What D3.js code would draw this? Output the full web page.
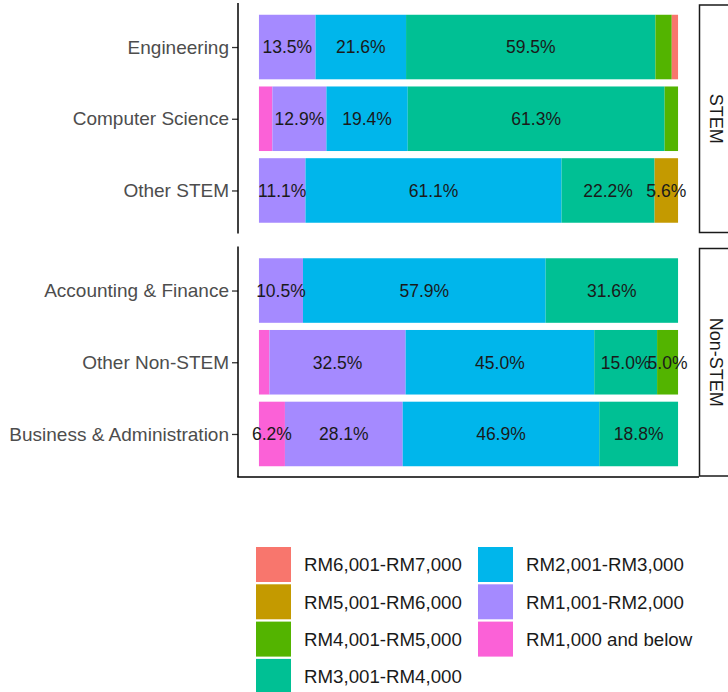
<!DOCTYPE html>
<html>
<head>
<meta charset="utf-8">
<script src="https://cdn.jsdelivr.net/npm/d3@7"></script>
<style>
  html, body { margin: 0; padding: 0; background: #fff; }
  svg { display: block; font-family: "Liberation Sans", Arial, sans-serif; }
</style>
</head>
<body>
<svg id="chart" width="728" height="692"></svg>
<script>
// ---- data ----
const incomeLevels = ["RM1,000 and below","RM1,001-RM2,000","RM2,001-RM3,000","RM3,001-RM4,000","RM4,001-RM5,000","RM5,001-RM6,000","RM6,001-RM7,000"];
const levelColors = ["#FB61D7","#A58AFF","#00B6EB","#00C094","#53B400","#C49A00","#F8766D"];
const legendOrder = ["RM6,001-RM7,000","RM5,001-RM6,000","RM4,001-RM5,000","RM3,001-RM4,000","RM2,001-RM3,000","RM1,001-RM2,000","RM1,000 and below"];

const groups = ["STEM","Non-STEM"];
const stemFields = ["Engineering","Computer Science","Other STEM"];
const nonStemFields = ["Accounting & Finance","Other Non-STEM","Business & Administration"];

// percentages per field, in incomeLevels order
const engineering      = [0,   13.5, 21.6, 59.5, 3.9, 0,   1.5];
const computerScience  = [3.2, 12.9, 19.4, 61.3, 3.2, 0,   0];
const otherStem        = [0,   11.1, 61.1, 22.2, 0,   5.6, 0];
const accountingFinance= [0,   10.5, 57.9, 31.6, 0,   0,   0];
const otherNonStem     = [2.5, 32.5, 45.0, 15.0, 5.0, 0,   0];
const businessAdmin    = [6.2, 28.1, 46.9, 18.8, 0,   0,   0];

const fieldValues = {
  "Engineering": engineering,
  "Computer Science": computerScience,
  "Other STEM": otherStem,
  "Accounting & Finance": accountingFinance,
  "Other Non-STEM": otherNonStem,
  "Business & Administration": businessAdmin
};
const groupFields = { "STEM": stemFields, "Non-STEM": nonStemFields };

// ---- layout ----
const svg = d3.select("#chart");
const panelLeft = 238, panelRight = 699;
const panels = [
  { group: "STEM", top: 4, bottom: 233.5 },
  { group: "Non-STEM", top: 247.5, bottom: 477 }
];

const color = d3.scaleOrdinal().domain(incomeLevels).range(levelColors);
const x = d3.scaleLinear().domain([-5, 105]).range([panelLeft, panelRight]);
const fmt = d3.format(".1f");

panels.forEach((p, pi) => {
  const fields = groupFields[p.group];
  const y = d3.scalePoint().domain(fields).range([p.top, p.bottom]).padding(0.6);
  const step = y.step();
  const barH = step * 0.9;
  const g = svg.append("g");

  // stacked bars
  const rows = fields.map(f => {
    const obj = { field: f };
    incomeLevels.forEach((l, i) => obj[l] = fieldValues[f][i]);
    return obj;
  });
  const stack = d3.stack().keys(incomeLevels)(rows);
  stack.forEach(layer => {
    g.selectAll(null).data(layer).enter().append("rect")
      .attr("x", d => x(d[0]))
      .attr("width", d => Math.max(0, x(d[1]) - x(d[0])))
      .attr("y", d => y(d.data.field) - barH / 2)
      .attr("height", barH)
      .attr("fill", color(layer.key));
  });
  stack.forEach(layer => {
    g.selectAll(null).data(layer.filter(d => d[1] - d[0] >= 4.95)).enter().append("text")
      .attr("x", d => x((d[0] + d[1]) / 2))
      .attr("y", d => y(d.data.field))
      .attr("dy", "0.36em")
      .attr("text-anchor", "middle")
      .attr("font-size", "17.5px")
      .attr("fill", "#1a1a1a")
      .text(d => fmt(d[1] - d[0]) + "%");
  });

  // y axis
  const yAxis = d3.axisLeft(y).tickSize(6).tickPadding(3);
  const ag = svg.append("g").attr("transform", `translate(${panelLeft},0)`).call(yAxis);
  ag.select(".domain").remove();
  ag.selectAll(".tick line").attr("stroke", "#333").attr("stroke-width", 1.3);
  ag.selectAll(".tick text").attr("font-size", "19px").attr("fill", "#4D4D4D")
    .attr("font-family", "Liberation Sans, Arial, sans-serif");
  svg.append("line").attr("x1", panelLeft).attr("x2", panelLeft)
    .attr("y1", p.top - 1).attr("y2", p.bottom).attr("stroke", "#000").attr("stroke-width", 1.5);

  // strip
  svg.append("rect").attr("x", 699.5).attr("y", p.top + 1).attr("width", 50).attr("height", p.bottom - p.top - 2)
    .attr("fill", "#fff").attr("stroke", "#1a1a1a").attr("stroke-width", 1.5);
  const cy = (p.top + p.bottom) / 2;
  svg.append("text").attr("transform", `translate(716,${cy}) rotate(90)`)
    .attr("text-anchor", "middle").attr("dy", "0.36em")
    .attr("font-size", "18px").attr("fill", "#1a1a1a").text(p.group);

  if (pi === panels.length - 1) {
    svg.append("line").attr("x1", panelLeft - 0.75).attr("x2", panelRight)
      .attr("y1", p.bottom).attr("y2", p.bottom).attr("stroke", "#000").attr("stroke-width", 1.5);
  }
});

// ---- legend ----
const legend = svg.append("g");
const keySize = 35, rowPitch = 37.3;
const colX = [256, 478];
const legTop = 547;
legendOrder.forEach((lvl, i) => {
  const col = Math.floor(i / 4), row = i % 4;
  const gx = colX[col], gy = legTop + row * rowPitch;
  legend.append("rect").attr("x", gx).attr("y", gy).attr("width", keySize).attr("height", keySize)
    .attr("fill", color(lvl));
  legend.append("text").attr("x", gx + 48).attr("y", gy + keySize / 2).attr("dy", "0.36em")
    .attr("font-size", "18.7px").attr("fill", "#1a1a1a").text(lvl);
});
</script>
</body>
</html>
